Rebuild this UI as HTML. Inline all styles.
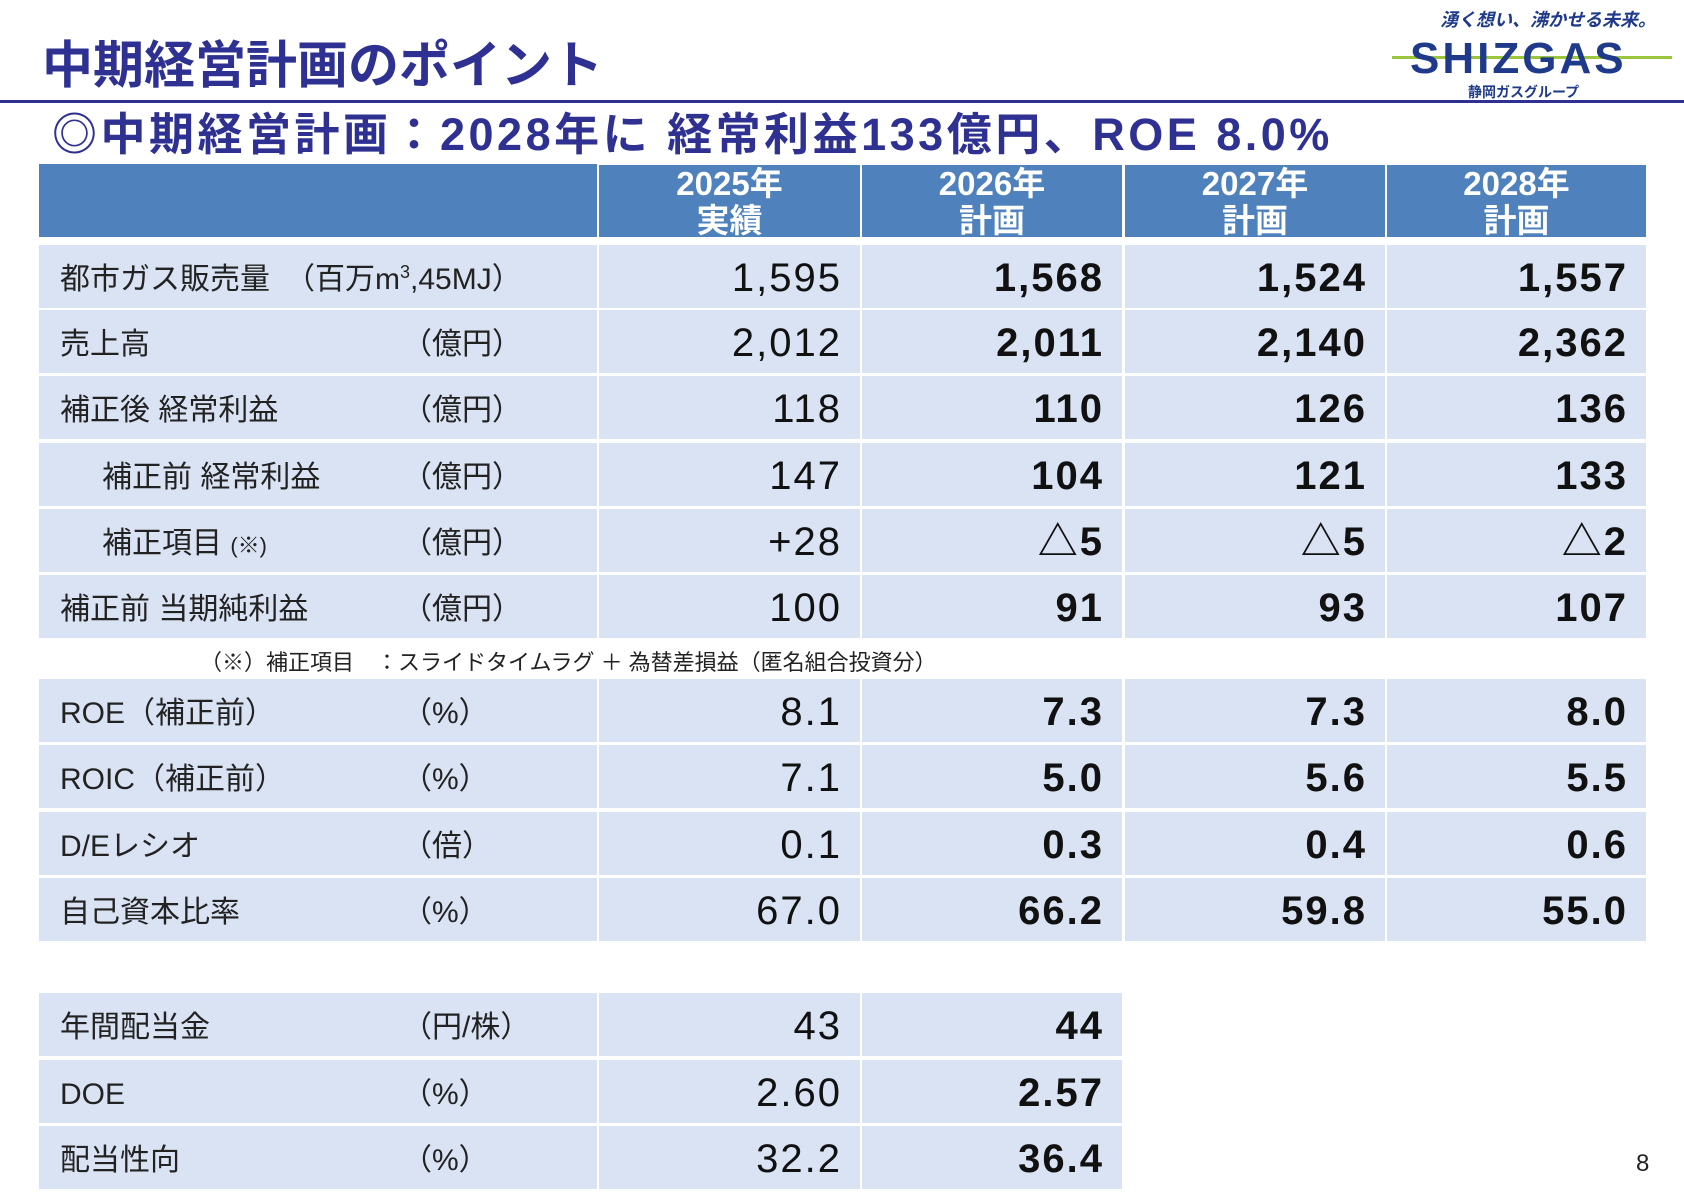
<!DOCTYPE html><html><head><meta charset="utf-8"><style>
body{margin:0;width:1684px;height:1191px;background:#fff;position:relative;overflow:hidden;font-family:"Liberation Sans","Noto Sans CJK JP",sans-serif;}
.a{position:absolute;}
.t{color:#2e3192;font-weight:bold;}
.c{position:absolute;background:#dae3f3;}
.h{position:absolute;background:#4f81bd;color:#fff;font-weight:bold;font-size:33px;text-align:center;line-height:38px;}
.l{position:absolute;font-size:30px;color:#222;white-space:nowrap;height:63px;line-height:63px;}
.n{position:absolute;font-size:40px;color:#111;text-align:right;white-space:nowrap;letter-spacing:2px;height:63px;line-height:66px;}
.b{font-weight:bold;}
</style></head><body>
<div class="a t" style="left:42px;top:24px;font-size:51px;">中期経営計画のポイント</div>
<div class="a" style="left:0;top:100px;width:1684px;height:3px;background:#2e3192;"></div>
<div class="a t" style="left:52px;top:98px;font-size:45px;letter-spacing:3.5px;">◎中期経営計画：2028年に 経常利益133億円、ROE 8.0%</div>
<div class="a" style="left:1440px;top:6px;font-size:18px;color:#1f3a8a;font-style:italic;font-weight:bold;">湧く想い、沸かせる未来。</div>
<div class="a" style="left:1392px;top:56px;width:280px;height:3px;background:#9bc53d;"></div>
<div class="a" style="left:1410px;top:34px;font-size:44px;color:#1f3a8a;font-weight:900;letter-spacing:3px;">SHIZGAS</div>
<div class="a" style="left:1468px;top:82px;font-size:14px;color:#1f3a8a;font-weight:bold;">静岡ガスグループ</div>
<div class="a" style="left:1636px;top:1150px;font-size:24px;color:#222;">8</div>
<div id="tbl"></div>
<script>
var H='';
function cell(x,y,w,h){H+='<div class="c" style="left:'+x+'px;top:'+y+'px;width:'+w+'px;height:'+h+'px"></div>';}
var cols=[[39,597],[599,860],[862,1122],[1125,1385],[1387,1646]];
H+='<div class="h" style="left:39px;top:164px;width:558px;height:73px"></div>';
var hd=[['2025年','実績'],['2026年','計画'],['2027年','計画'],['2028年','計画']];
for(var i=0;i<4;i++){var c=cols[i+1];H+='<div class="h" style="left:'+c[0]+'px;top:165px;width:'+(c[1]-c[0])+'px;height:72px;line-height:37px">'+hd[i][0]+'<br>'+hd[i][1]+'</div>';}
function rows(data,ys,ncol){
 for(var r=0;r<data.length;r++){var y=ys[r],d=data[r];
  for(var i=0;i<ncol;i++){var c=cols[i];cell(c[0],y,c[1]-c[0],63);}
  H+='<div class="l" style="left:'+(60+(d[3]||0))+'px;top:'+(y+3)+'px">'+d[0]+'</div>';
  H+='<div class="l" style="left:402px;top:'+(y+3)+'px">'+d[1]+'</div>';
  for(var i=1;i<ncol;i++){var c=cols[i];H+='<div class="n'+(i>1?' b':'')+'" style="left:'+c[0]+'px;width:'+(c[1]-c[0]-18)+'px;top:'+(y)+'px">'+d[2][i-1]+'</div>';}
 }}
rows([
['都市ガス販売量　（百万m<sup style="font-size:18px;line-height:0">3</sup>,45MJ）','',['1,595','1,568','1,524','1,557']],
['売上高','（億円）',['2,012','2,011','2,140','2,362']],
['補正後 経常利益','（億円）',['118','110','126','136']],
['補正前 経常利益','（億円）',['147','104','121','133'],42],
['補正項目 <span style="font-size:22px">(※)</span>','（億円）',['+28','△5','△5','△2'],42],
['補正前 当期純利益','（億円）',['100','91','93','107']]
],[245,310,376,443,509,575],5);
H+='<div class="a" style="left:200px;top:645px;font-size:22px;color:#222;white-space:nowrap">（※）補正項目　：スライドタイムラグ ＋ 為替差損益（匿名組合投資分）</div>';
rows([
['ROE（補正前）','（%）',['8.1','7.3','7.3','8.0']],
['ROIC（補正前）','（%）',['7.1','5.0','5.6','5.5']],
['D/Eレシオ','（倍）',['0.1','0.3','0.4','0.6']],
['自己資本比率','（%）',['67.0','66.2','59.8','55.0']]
],[679,745,812,878],5);
rows([
['年間配当金','（円/株）',['43','44']],
['DOE','（%）',['2.60','2.57']],
['配当性向','（%）',['32.2','36.4']]
],[993,1060,1126],3);
document.getElementById('tbl').innerHTML=H;
</script>
</body></html>
